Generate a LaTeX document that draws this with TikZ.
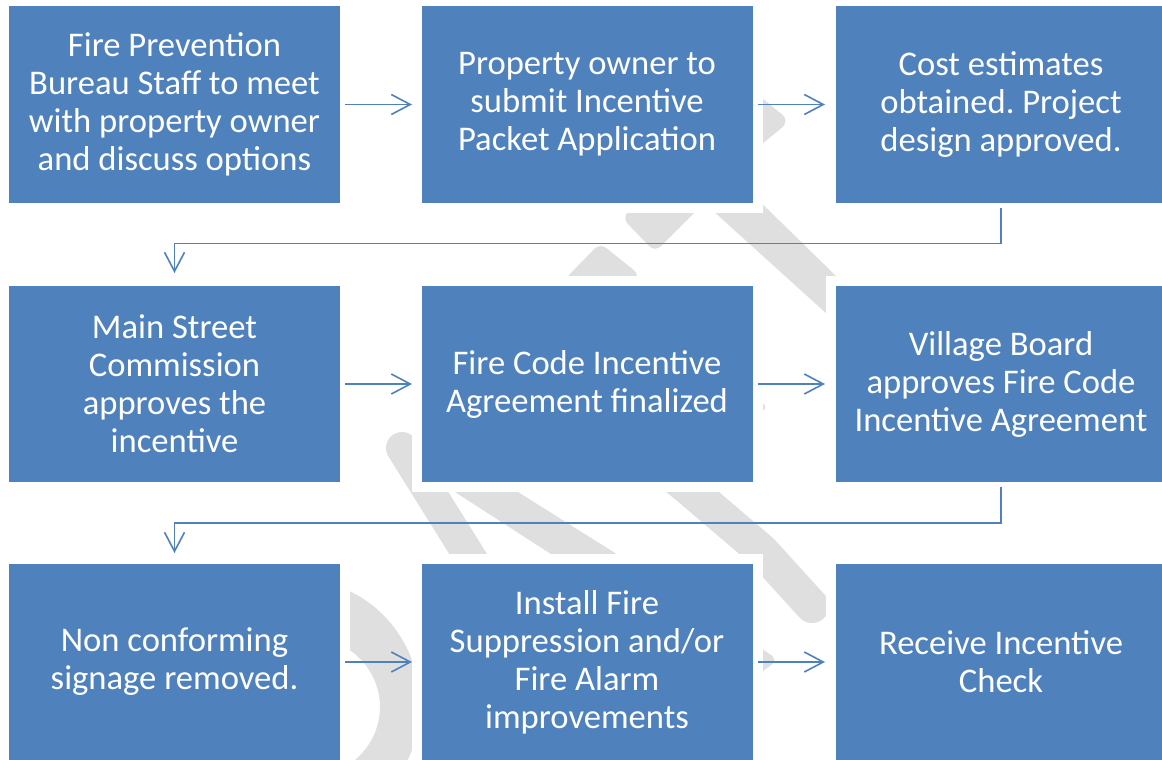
\documentclass[tikz,border=0pt]{standalone}
\usepackage{fontspec}
\setmainfont{Carlito}
\usetikzlibrary{arrows.meta}
\definecolor{boxblue}{HTML}{4F81BD}
\definecolor{wm}{HTML}{DFDFDF}
\frenchspacing
\begin{document}
\begin{tikzpicture}[x=1pt,y=-1pt,
  stepbox/.style={rectangle, fill=boxblue, draw=white, line width=10pt, outer sep=0pt, inner sep=0pt,
    minimum width=341pt, minimum height=206pt, text=white, align=center,
    font=\fontsize{34.6}{38}\selectfont},
  conn/.style={draw=boxblue, line width=1.6pt, -{Straight Barb[length=19pt,width=20pt,line width=1.6pt]}},
  wmline/.style={draw=wm, line cap=round, line join=round}]
\useasboundingbox (0,0) rectangle (1162,760);
% watermark fragments
\fill[wm, rounded corners=10pt] (740,80) -- (790,121) -- (740,162) -- cycle;
\fill[wm, rounded corners=5pt] (740,388) -- (768,407) -- (740,427) -- cycle;
\fill[wm, rounded corners=8pt] (740,633) -- (778,660) -- (740,688) -- cycle;
\fill[wm, rounded corners=8pt] (540,305) -- (600,243) -- (640,275) -- (600,330) -- cycle;
\fill[wm, rounded corners=8pt] (622,218) -- (655,252) -- (730,177) -- (697,143) -- cycle;
\fill[wm] (700,143) -- (880,319) -- (870,353) -- (690,190) -- cycle;
\draw[wmline, line width=32pt] (402,448) -- (500,605);
\fill[wm] (421,470) -- (483,470) -- (658,580) -- (591,580) -- cycle;
\draw[wmline, line width=34pt] (660,465) -- (687,487) -- (762,551) -- (812,606);
\fill[wm, even odd rule] (300,705) ellipse [x radius=120, y radius=125] (305,707) ellipse [x radius=75, y radius=71];
% boxes
\node[stepbox] (b1) at (174.5,104.5) {Fire Prevention\\Bureau Staff to meet\\with property owner\\and discuss options};
\node[stepbox] (b2) at (587,104.5) {Property owner to\\submit Incentive\\Packet Application};
\node[stepbox] (b3) at (1001,104.5) {Cost estimates\\obtained. Project\\design approved.};
\node[stepbox] (b4) at (174.5,384) {Main Street\\Commission\\approves the\\incentive};
\node[stepbox] (b5) at (587,384) {Fire Code Incentive\\Agreement finalized};
\node[stepbox] (b6) at (1001,384) {Village Board\\approves Fire Code\\Incentive Agreement};
\node[stepbox] (b7) at (174.5,662) {Non conforming\\signage removed.};
\node[stepbox] (b8) at (587,662) {Install Fire\\Suppression and/or\\Fire Alarm\\improvements};
\node[stepbox] (b9) at (1001,662) {Receive Incentive\\Check};
% connectors
\draw[conn] (b1.east) -- ([xshift=-4.5pt]b2.west);
\draw[conn] (b2.east) -- ([xshift=-5.5pt]b3.west);
\draw[conn] (b4.east) -- ([xshift=-4.5pt]b5.west);
\draw[conn] (b5.east) -- ([xshift=-5.5pt]b6.west);
\draw[conn] (b7.east) -- ([xshift=-4.5pt]b8.west);
\draw[conn] (b8.east) -- ([xshift=-5.5pt]b9.west);
\draw[conn] (b3.south) -- ++(0,36) -| ([yshift=8pt]b4.north);
\draw[conn] (b6.south) -- ++(0,36) -| ([yshift=6pt]b7.north);
\end{tikzpicture}
\end{document}
